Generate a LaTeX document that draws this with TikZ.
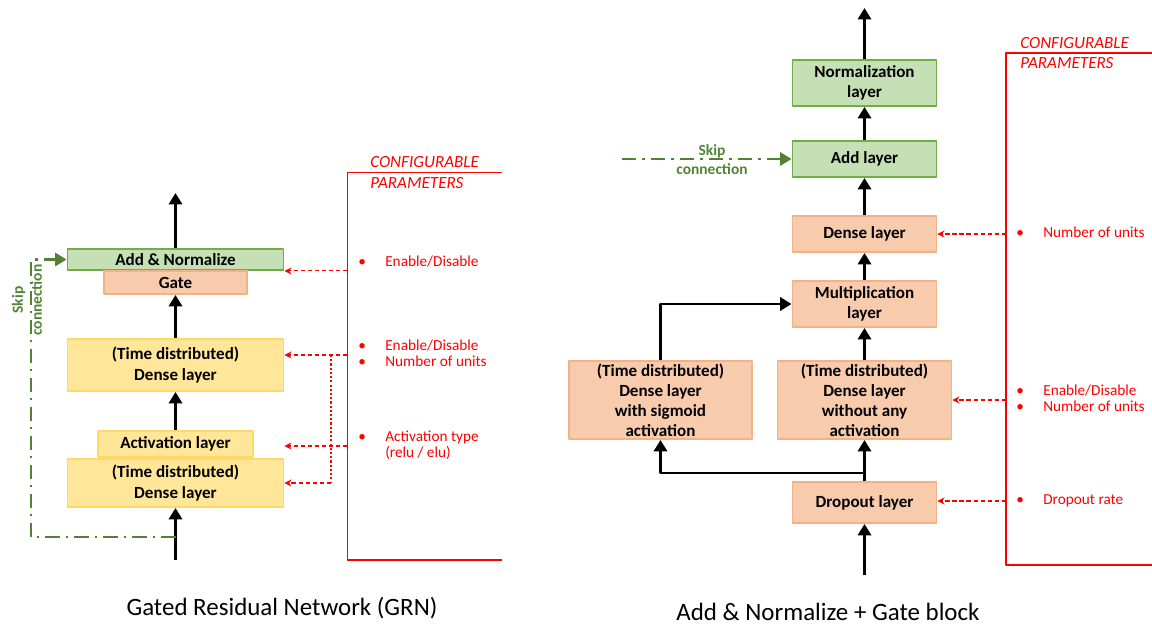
\documentclass[tikz,border=0pt]{standalone}
\usepackage{fontspec}
\setmainfont{Carlito}
\usetikzlibrary{arrows.meta}
\definecolor{grnfill}{HTML}{C5E0B4}
\definecolor{grndraw}{HTML}{70AD47}
\definecolor{orgfill}{HTML}{F8CBAD}
\definecolor{orgdraw}{HTML}{F4B183}
\definecolor{ylwfill}{HTML}{FFE699}
\definecolor{ylwdraw}{HTML}{FFD966}
\definecolor{skipgreen}{HTML}{548235}
\definecolor{parred}{HTML}{FF0000}

\begin{document}
\begin{tikzpicture}[x=0.02cm,y=-0.02cm,line join=round,
    >={Triangle[length=6.5pt,width=7.5pt]},
    lyr/.style={draw,line width=1.1pt,inner sep=0pt,align=center,font=\fontsize{9.7}{11.4}\selectfont\bfseries},
    addbox/.style={lyr,draw=grndraw,fill=grnfill},
    orgbox/.style={lyr,draw=orgdraw,fill=orgfill},
    ylwbox/.style={lyr,draw=ylwdraw,fill=ylwfill},
    flow/.style={->,line width=1.6pt},
    skip/.style={->,skipgreen,line width=1.4pt,dash pattern=on 8pt off 3.5pt on 1.5pt off 3.5pt},
    skiplbl/.style={text=skipgreen,font=\fontsize{8.8}{10.8}\selectfont\bfseries,align=center,inner sep=0pt},
    panel/.style={parred,line width=0.8pt},
    par/.style={-{Stealth[length=4pt,width=4pt]},parred,line width=0.6pt,dash pattern=on 2.5pt off 1.5pt},
    partap/.style={parred,line width=0.6pt,dash pattern=on 1.2pt off 1.2pt},
    prm/.style={anchor=west,text=parred,font=\fontsize{8.7}{9.5}\selectfont,inner sep=0pt},
    cfg/.style={anchor=west,text=parred,font=\fontsize{9.7}{11.5}\selectfont\itshape,align=left,inner sep=0pt},
    ttl/.style={font=\fontsize{14.2}{16}\selectfont}]
  \def\blt#1{\begin{tabular}{@{}l@{\hspace{11pt}}l@{}}#1\end{tabular}}
  \useasboundingbox (0,0) rectangle (1152,626);

  % Gated Residual Network
  \node[addbox,minimum width=4.32cm,minimum height=0.42cm] (addnorm) at (175.5,259.5) {Add \& Normalize};
  \node[orgbox,minimum width=2.86cm,minimum height=0.46cm] (gate) at (175.5,282.5) {Gate};
  \node[ylwbox,minimum width=4.32cm,minimum height=1.04cm] (dense2) at (175.5,365) {(Time distributed)\\Dense layer};
  \node[ylwbox,minimum width=3.1cm,minimum height=0.52cm] (act) at (175.5,444) {Activation layer};
  \node[ylwbox,minimum width=4.32cm,minimum height=0.96cm] (dense1) at (175.5,483) {(Time distributed)\\Dense layer};
  \coordinate (outL) at (175.5,193);
  \coordinate (inL) at (175.5,560);
  \coordinate (skipL) at (175.5,537);
  \coordinate (skipC) at (31,259.5);
  \draw[flow] (addnorm) -- (outL);
  \draw[flow] (dense2) -- (gate);
  \draw[flow] (act) -- (dense2);
  \draw[flow] (inL) -- (dense1);
  \draw[skip] (skipL) -| (skipC) -- (addnorm.west);
  \node[skiplbl,rotate=90] (skiptxtL) at (27,300) {Skip\\connection};

  \coordinate (panelL) at (347.5,172.5);
  \coordinate (tapL) at (331,355);
  \draw[panel] (502,172.5) -- (panelL) -- (347.5,560) -- (502,560);
  \node[cfg] (cfgL) at (370,172.5) {CONFIGURABLE\\PARAMETERS};
  \node[prm] (p1) at (358,263) {\blt{\textbullet & Enable/Disable}};
  \node[prm] (p2) at (358,355) {\blt{\textbullet & Enable/Disable\\ \textbullet & Number of units}};
  \node[prm] (p3) at (358,446) {\blt{\textbullet & Activation type\\ & (relu / elu)}};
  \draw[par] (panelL |- addnorm.south east) -- (addnorm.south east);
  \draw[par] (panelL |- p2) -- (dense2.east |- p2);
  \draw[par] (panelL |- p3) -- (dense2.east |- p3);
  \draw[partap] (tapL) -- (tapL |- dense1.east);
  \draw[par] (tapL |- dense1.east) -- (dense1.east);

  \node[ttl] (ttlL) at (282,608) {Gated Residual Network (GRN)};

  % Add & Normalize + Gate block
  \node[addbox,minimum width=2.88cm,minimum height=0.92cm] (norm) at (864.5,83) {Normalization\\layer};
  \node[addbox,minimum width=2.88cm,minimum height=0.72cm] (add) at (864.5,159) {Add layer};
  \node[orgbox,minimum width=2.88cm,minimum height=0.72cm] (dense) at (864.5,234) {Dense layer};
  \node[orgbox,minimum width=2.88cm,minimum height=0.92cm] (mult) at (864.5,304) {Multiplication\\layer};
  \node[orgbox,minimum width=3.66cm,minimum height=1.56cm] (sig) at (660.5,400) {(Time distributed)\\Dense layer\\with sigmoid\\activation};
  \node[orgbox,minimum width=3.48cm,minimum height=1.56cm] (noact) at (864.5,400) {(Time distributed)\\Dense layer\\without any\\activation};
  \node[orgbox,minimum width=2.88cm,minimum height=0.82cm] (drop) at (864.5,502.5) {Dropout layer};
  \coordinate (outR) at (864.5,8);
  \coordinate (inR) at (864.5,575);
  \coordinate (junc) at (864.5,473);
  \coordinate (skipR) at (622,159);
  \draw[flow] (norm) -- (outR);
  \draw[flow] (add) -- (norm);
  \draw[flow] (dense) -- (add);
  \draw[flow] (mult) -- (dense);
  \draw[flow] (noact) -- (mult);
  \draw[flow] (sig.north) |- (mult.west);
  \draw[line width=1.6pt] (drop) -- (junc);
  \draw[flow] (junc) -- (noact);
  \draw[flow] (junc) -| (sig.south);
  \draw[flow] (inR) -- (drop);
  \draw[skip] (skipR) -- (add);
  \node[skiplbl] (skiptxtR) at (712,160) {Skip\\connection};

  \coordinate (panelR) at (1006,53);
  \draw[panel] (1152,53) -- (panelR) -- (1006,565) -- (1152,565);
  \node[cfg] (cfgR) at (1020,53) {CONFIGURABLE\\PARAMETERS};
  \node[prm] (q1) at (1016,234) {\blt{\textbullet & Number of units}};
  \node[prm] (q2) at (1016,400) {\blt{\textbullet & Enable/Disable\\ \textbullet & Number of units}};
  \node[prm] (q3) at (1016,501) {\blt{\textbullet & Dropout rate}};
  \draw[par] (panelR |- q1) -- (dense.east |- q1);
  \draw[par] (panelR |- q2) -- (noact.east |- q2);
  \draw[par] (panelR |- q3) -- (drop.east |- q3);

  \node[ttl] (ttlR) at (828,612) {Add \& Normalize + Gate block};
\end{tikzpicture}
\end{document}
